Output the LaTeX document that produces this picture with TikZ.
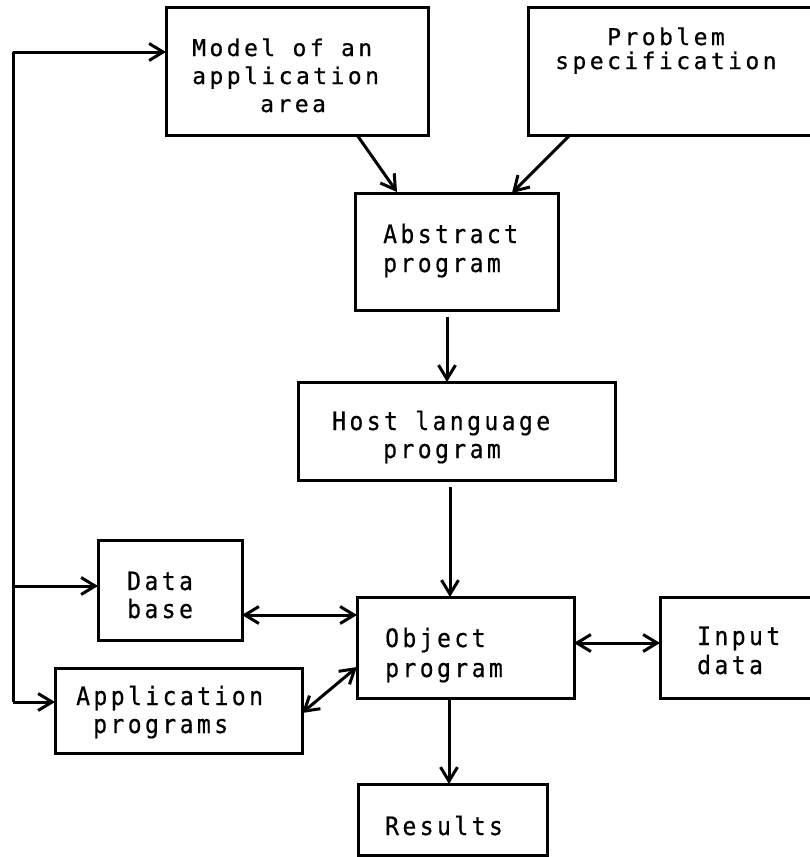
\documentclass[tikz,border=0pt]{standalone}
\usepackage{fontspec}
\usepackage{graphicx}
\newfontfamily\twfont[LetterSpace=15,FakeBold=0.6]{DejaVu Sans Mono}
\usetikzlibrary{arrows.meta,calc}
\newcommand\vsc[2]{\scalebox{1}[#1]{#2}}
\begin{document}
\begin{tikzpicture}[x=1pt,y=-1pt,
  box/.style={draw, line width=3pt, inner sep=0pt, outer sep=0pt},
  txt/.style={anchor=base west, inner sep=0pt, font={\fontsize{23pt}{28pt}\selectfont\twfont}},
  arr/.style={line width=3pt, line join=round, -{Straight Barb[length=14pt,width=17pt,line width=3pt]}},
  darr/.style={line width=3pt, {Straight Barb[length=14pt,width=17pt,line width=3pt]}-{Straight Barb[length=14pt,width=17pt,line width=3pt]}}]
\clip (0,0) rectangle (810,857);
\fill[white] (0,0) rectangle (810,857);
% boxes
\node[box, minimum width=262pt, minimum height=128pt] (model) at (297,71) {};
\node[box, minimum width=312pt, minimum height=128pt] (prob) at (684,71) {};
\node[box, minimum width=203pt, minimum height=117pt] (abs) at (456.5,251.5) {};
\node[box, minimum width=317pt, minimum height=98pt] (host) at (456.5,431) {};
\node[box, minimum width=144pt, minimum height=100pt] (db) at (170,590) {};
\node[box, minimum width=247pt, minimum height=85pt] (app) at (178.5,710.5) {};
\node[box, minimum width=217pt, minimum height=101pt] (obj) at (465.5,647.5) {};
\node[box, minimum width=180pt, minimum height=101pt] (inp) at (750,647.5) {};
\node[box, minimum width=189pt, minimum height=71pt] (res) at (452.5,819.5) {};
% texts
\node[txt] (m1) at (192,56) {\vsc{1.0}{Model of an}};
\node[txt] (m2) at (192,84) {\vsc{1.0}{application}};
\node[txt] (m3) at (260,112) {\vsc{1.0}{area}};
\node[txt] (p1) at (607,45) {\vsc{1.0}{Problem}};
\node[txt] (p2) at (555,69) {\vsc{1.0}{specification}};
\node[txt] (a1) at (383,243) {\vsc{1.1}{Abstract}};
\node[txt] (a2) at (383,272) {\vsc{1.1}{program}};
\node[txt] (h1) at (332,430) {\vsc{1.1}{Host language}};
\node[txt] (h2) at (383,458) {\vsc{1.1}{program}};
\node[txt] (o1) at (385,647) {\vsc{1.1}{Object}};
\node[txt] (o2) at (385,677) {\vsc{1.1}{program}};
\node[txt] (i1) at (697,645) {\vsc{1.1}{Input}};
\node[txt] (i2) at (697,674) {\vsc{1.1}{data}};
\node[txt] (d1) at (127,590) {\vsc{1.1}{Data}};
\node[txt] (d2) at (127,618) {\vsc{1.1}{base}};
\node[txt] (ap1) at (76,705) {\vsc{1.1}{Application}};
\node[txt] (ap2) at (93,733) {\vsc{1.1}{programs}};
\node[txt] (r1) at (385,835) {\vsc{1.1}{Results}};
% bus on the left
\coordinate (bt) at (13,52);
\coordinate (bm) at (13,586);
\coordinate (bb) at (13,702);
\draw[arr] (bb) -- (bt) -- (bt -| model.west);
\draw[arr] (bm) -- (bm -| db.west);
\draw[arr] (bb) -- (bb -| app.west);
% connectors
\draw[arr] ($(model.south west)+(191,0)$) -- ($(abs.north west)+(42,-1)$);
\draw[arr] ($(prob.south west)+(42,0)$) -- ($(abs.north west)+(157,0)$);
\draw[arr] ($(abs.south west)+(92,7)$) -- ($(host.north west)+(149,0)$);
\draw[arr] ($(host.south west)+(152,7)$) -- ($(obj.north west)+(93,0)$);
\draw[arr] ($(obj.south west)+(92,0)$) -- ($(res.north west)+(91,0)$);
\draw[darr] ($(db.north east)+(0,75)$) -- ($(obj.north west)+(0,18)$);
\draw[darr] ($(app.north east)+(0,45)$) -- ($(obj.north west)+(0,70)$);
\draw[darr] ($(obj.north east)+(0,46)$) -- ($(inp.north west)+(0,46)$);
\end{tikzpicture}
\end{document}
